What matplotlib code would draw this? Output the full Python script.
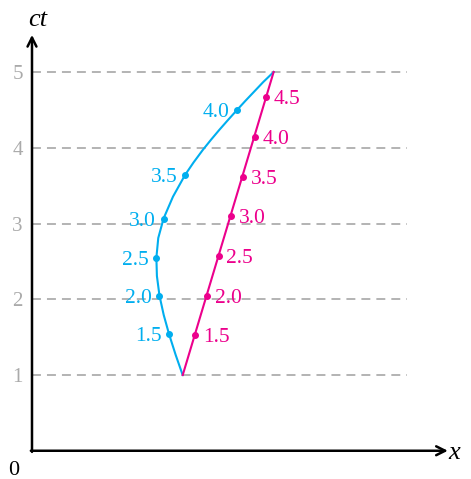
import numpy as np
import matplotlib.pyplot as plt

plt.rcParams['font.family'] = ['Liberation Serif', 'DejaVu Serif']

# accelerated worldline (x, ct)
curve_x = [1.989, 1.897, 1.810, 1.739, 1.683, 1.649, 1.642, 1.667, 1.737, 1.861,
           2.020, 2.132, 2.254, 2.360, 2.471, 2.587, 2.706, 2.815, 2.928, 3.053, 3.19]
curve_ct = [1.0, 1.264, 1.537, 1.792, 2.047, 2.307, 2.549, 2.809, 3.066, 3.354,
            3.640, 3.805, 3.970, 4.102, 4.234, 4.366, 4.498, 4.617, 4.736, 4.868, 5.0]

# proper-time marks on the accelerated worldline
blue_tau = ['1.5', '2.0', '2.5', '3.0', '3.5', '4.0']
blue_x = [1.810, 1.683, 1.642, 1.737, 2.020, 2.706]
blue_ct = [1.537, 2.047, 2.549, 3.066, 3.640, 4.498]

# inertial worldline and its proper-time marks
line_x = [1.99, 3.19]
line_ct = [1.0, 5.0]
pink_tau = ['1.5', '2.0', '2.5', '3.0', '3.5', '4.0', '4.5']
pink_x = [2.155, 2.310, 2.465, 2.625, 2.783, 2.940, 3.093]
pink_ct = [1.526, 2.047, 2.571, 3.098, 3.619, 4.140, 4.666]

ct_ticks = [1, 2, 3, 4, 5]

blue = '#00aeef'
pink = '#ec008c'
grey = '#aaaaaa'

fig = plt.figure(figsize=(4.71, 4.79), dpi=100)
ax = fig.add_axes([0, 0, 1, 1])
ax.set_xlim(-0.4224, 5.7954)
ax.set_ylim(-0.3729, 5.9505)
ax.axis('off')

for t in ct_ticks:
    ax.plot([0, 4.95], [t, t], color='#b3b3b3', lw=1.4, ls=(0, (4.6, 3.1)), zorder=1)
    ax.text(-0.19, t, str(t), color=grey, fontsize=15, ha='center', va='center_baseline')

# axes with arrows
ax.annotate('', xy=(5.49, 0), xytext=(-0.015, 0),
            arrowprops=dict(arrowstyle='->', lw=1.8, color='black', mutation_scale=16,
                            shrinkA=0, shrinkB=0))
ax.annotate('', xy=(0, 5.49), xytext=(0, -0.015),
            arrowprops=dict(arrowstyle='->', lw=1.8, color='black', mutation_scale=16,
                            shrinkA=0, shrinkB=0))
ax.text(5.58, 0.0, 'x', fontsize=19, style='italic', ha='center', va='center_baseline')
ax.text(0.08, 5.72, 'ct', fontsize=19, style='italic', ha='center', va='center_baseline')
ax.text(-0.24, -0.23, '0', fontsize=16, ha='center', va='center_baseline')

ax.plot(curve_x, curve_ct, color=blue, lw=1.5, zorder=3, solid_joinstyle='round')
ax.plot(line_x, line_ct, color=pink, lw=1.5, zorder=3)
ax.plot(blue_x, blue_ct, 'o', color=blue, ms=4, zorder=4)
ax.plot(pink_x, pink_ct, 'o', color=pink, ms=4, zorder=4)

for lab, x, y in zip(blue_tau, blue_x, blue_ct):
    ax.annotate(lab, (x, y), xytext=(-5.5, 0), textcoords='offset points',
                color=blue, fontsize=15.5, ha='right', va='center_baseline')
for lab, x, y in zip(pink_tau, pink_x, pink_ct):
    ax.annotate(lab, (x, y), xytext=(5.5, 0), textcoords='offset points',
                color=pink, fontsize=15.5, ha='left', va='center_baseline')

fig.savefig('out.png', dpi=100)
